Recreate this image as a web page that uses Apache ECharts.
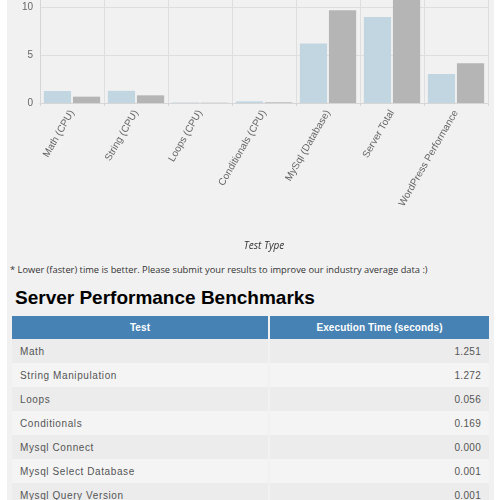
<!DOCTYPE html>
<html>
<head>
<meta charset="utf-8">
<script src="https://cdn.jsdelivr.net/npm/echarts@6/dist/echarts.min.js"></script>
<style>
  html, body { margin:0; padding:0; background:#fff; width:502px; height:500px; overflow:hidden; }
  #panel { position:absolute; left:7px; top:0; width:487px; height:500px; background:#f1f1f1; }
  #chart { position:absolute; left:7px; top:-50px; width:487px; height:310px; }
  #note { position:absolute; left:10px; top:263px; font-family:"Open Sans", sans-serif; font-size:9.3px; line-height:14px; color:#333; white-space:nowrap; }
  #heading { position:absolute; left:15px; top:287px; font-family:"Liberation Sans", Arial, sans-serif; font-weight:bold; font-size:19px; line-height:22px; color:#000; margin:0; white-space:nowrap; }
  #tbl { position:absolute; left:10px; top:316px; width:481px; border-collapse:separate; border-spacing:2px 0; font-family:"Liberation Sans", Arial, sans-serif; font-size:10px; }
  #tbl th { background:#4682b4; color:#fff; font-weight:bold; height:23px; padding:0; text-align:center; letter-spacing:0.1px; }
  #tbl td { height:24px; padding:0 8px; color:#555; letter-spacing:0.6px; }
  #tbl tr.odd td { background:#ececec; }
  #tbl tr.even td { background:#f4f4f4; }
  #tbl td.num { text-align:right; padding-right:8px; letter-spacing:0.3px; }
</style>
</head>
<body>
<div id="panel"></div>
<div id="chart"></div>
<div id="note"></div>
<div id="heading"></div>
<table id="tbl"><thead><tr><th id="h1" style="width:256px"></th><th id="h2"></th></tr></thead><tbody id="tbody"></tbody></table>
<script>
// ---- chart data ----
var categories = ['Math (CPU)', 'String (CPU)', 'Loops (CPU)', 'Conditionals (CPU)', 'MySql (Database)', 'Server Total', 'WordPress Performance'];
var serverValues = [1.251, 1.272, 0.056, 0.169, 6.21, 8.96, 3.02];
var averageValues = [0.66, 0.80, 0.03, 0.07, 9.65, 11.2, 4.13];
var yTicks = { min: 0, max: 15, interval: 5 };
var xAxisName = 'Test Type';

// ---- text ----
var noteText = '* Lower (faster) time is better. Please submit your results to improve our industry average data :)';
var headingText = 'Server Performance Benchmarks';
var tableHeaders = ['Test', 'Execution Time (seconds)'];
var tableTests = ['Math', 'String Manipulation', 'Loops', 'Conditionals', 'Mysql Connect', 'Mysql Select Database', 'Mysql Query Version'];
var tableTimes = ['1.251', '1.272', '0.056', '0.169', '0.000', '0.001', '0.001'];

document.getElementById('note').textContent = noteText;
document.getElementById('heading').textContent = headingText;
document.getElementById('h1').textContent = tableHeaders[0];
document.getElementById('h2').textContent = tableHeaders[1];
var tb = document.getElementById('tbody');
tableTests.forEach(function (t, i) {
  var tr = document.createElement('tr');
  tr.className = i % 2 === 0 ? 'odd' : 'even';
  var a = document.createElement('td'); a.textContent = t;
  var b = document.createElement('td'); b.textContent = tableTimes[i]; b.className = 'num';
  tr.appendChild(a); tr.appendChild(b); tb.appendChild(tr);
});

var chart = echarts.init(document.getElementById('chart'));
chart.setOption({
  animation: false,
  grid: { left: 33, right: 6, top: 9, bottom: 157 },
  xAxis: {
    type: 'category',
    data: categories,
    name: xAxisName,
    nameLocation: 'middle',
    nameGap: 138,
    nameTextStyle: { fontFamily: 'Open Sans', fontStyle: 'italic', fontSize: 10, color: '#333' },
    axisLine: { lineStyle: { color: '#d6d6d6' } },
    axisTick: { show: true, length: 3, lineStyle: { color: '#d6d6d6' } },
    splitLine: { show: true, lineStyle: { color: '#dedede' } },
    axisLabel: { rotate: 60, fontSize: 10, color: '#666', fontFamily: 'Liberation Sans', margin: 8, interval: 0 }
  },
  yAxis: {
    type: 'value',
    min: yTicks.min, max: yTicks.max, interval: yTicks.interval,
    axisLine: { show: true, lineStyle: { color: '#d6d6d6' } },
    axisTick: { show: false },
    splitLine: { lineStyle: { color: '#dedede' } },
    axisLabel: { fontSize: 10, color: '#666', fontFamily: 'Liberation Sans', margin: 7 }
  },
  series: [
    { name: 'Your Server', type: 'bar', data: serverValues, itemStyle: { color: '#c2d6e1' }, barGap: '7%', barCategoryGap: '12%' },
    { name: 'Industry Average', type: 'bar', data: averageValues, itemStyle: { color: '#b5b5b5' } }
  ]
});
</script>
</body>
</html>
